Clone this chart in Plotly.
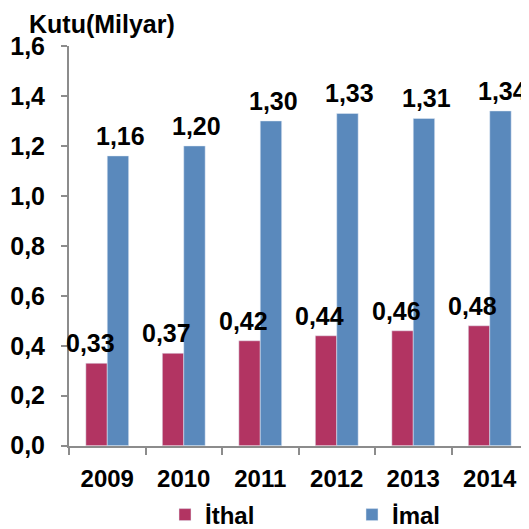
import plotly.graph_objects as go

years = ["2009", "2010", "2011", "2012", "2013", "2014"]
ithal = [0.33, 0.37, 0.42, 0.44, 0.46, 0.48]
imal = [1.16, 1.20, 1.30, 1.33, 1.31, 1.34]
y_ticks = [0.0, 0.2, 0.4, 0.6, 0.8, 1.0, 1.2, 1.4, 1.6]

FONT = "Liberation Sans, Arial, sans-serif"
C_ITHAL = "#B23462"
C_IMAL = "#5A89BC"

# the page body has an 8px margin, so the figure is 8px smaller than the window
W = H = 521


def lab(v):
    return f"{v:.2f}".replace(".", ",")


def bold(size):
    return dict(family=FONT, size=size, color="black", weight="bold")


fig = go.Figure()
fig.add_bar(x=years, y=ithal, name="İthal", marker_color=C_ITHAL)
fig.add_bar(x=years, y=imal, name="İmal", marker_color=C_IMAL)

ann = []
for i, v in enumerate(ithal):
    ann.append(dict(x=i, y=v, text=lab(v), showarrow=False, xshift=-17,
                    yanchor="bottom", yshift=4, font=bold(25)))
for i, v in enumerate(imal):
    ann.append(dict(x=i, y=v, text=lab(v), showarrow=False, xshift=13,
                    yanchor="bottom", yshift=4, font=bold(25)))
ann.append(dict(xref="paper", x=(28 - 69) / 459, xanchor="left",
                yref="paper", y=1 + (46 - 24) / 404, yanchor="middle",
                text="Kutu(Milyar)", showarrow=False, font=bold(25), borderpad=0))

fig.update_layout(
    width=W, height=H,
    margin=dict(l=61, r=1, t=38, b=79),
    paper_bgcolor="white", plot_bgcolor="white",
    barmode="group", bargap=0.44, bargroupgap=0,
    separators=",.",
    font=bold(24),
    annotations=ann,
    legend=dict(orientation="h", xref="container", yref="container",
                x=157 / W, xanchor="left", y=1 - 507 / H, yanchor="middle",
                entrywidth=142, entrywidthmode="pixels", font=bold(24)),
    xaxis=dict(type="category", categoryorder="array", categoryarray=years,
               range=[-0.5, 5.5], autorange=False,
               showline=True, linecolor="#8c8c8c", linewidth=2,
               ticks="outside", tickson="boundaries", ticklen=7, tickcolor="#8c8c8c",
               tickwidth=2, tickangle=0, ticklabelstandoff=10, tickfont=bold(24)),
    yaxis=dict(range=[0, 1.6], autorange=False, tickvals=y_ticks, tickformat=".1f",
               showgrid=False, zeroline=False, showline=True, linecolor="#8c8c8c",
               linewidth=2, ticks="outside", ticklen=6, tickcolor="#8c8c8c", tickwidth=2,
               ticklabelstandoff=11, tickfont=bold(25)),
)

fig.write_html("out.html")
